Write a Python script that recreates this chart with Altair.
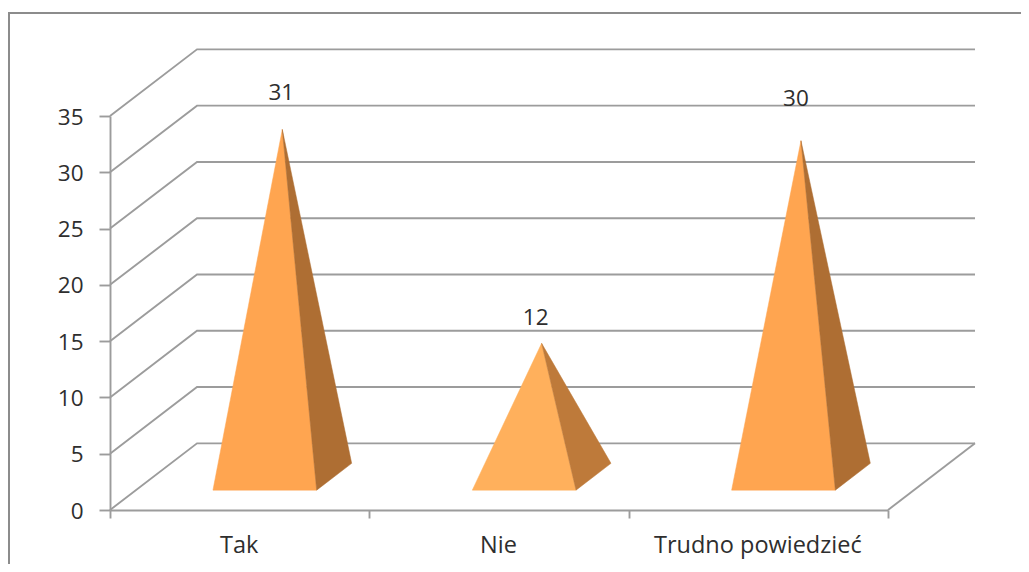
import altair as alt
import pandas as pd

categories = ["Tak", "Nie", "Trudno powiedzieć"]
values = [31, 12, 30]
y_ticks = [0, 5, 10, 15, 20, 25, 30, 35]
front_colors = ["#FFA550", "#FFB05C", "#FFA550"]
side_colors = ["#AE6E33", "#BE7A3A", "#AE6E33"]

W, H = 778, 394
FONT = "Open Sans"
GRID = "#9C9C9C"
FRAME = "#8C8C8C"
TEXT = "#2E2E2E"
FS = 22.5

# oblique projection of the 3D box, in data units
DX, DY = 0.3355, 5.92
HALF = 0.2
FRONT_D, BACK_D = 0.298, 0.70
LABEL_SHIFT = [(-1, -36), (-6, -25), (-5, -42)]

xs = alt.Scale(domain=[0, 3], nice=False, zero=False)
ys = alt.Scale(domain=[0, 35], nice=False, zero=False)
y_axis = alt.Axis(values=y_ticks, labelFont=FONT, labelFontSize=FS, labelColor=TEXT,
                  labelPadding=16, labelOffset=1, tickSize=11, tickWidth=1.9, tickColor=GRID,
                  domainColor=GRID, domainWidth=1.9, grid=False, title=None)


def line_layer(points, color=GRID, width=1.9, **mark):
    df = pd.DataFrame(points, columns=["x", "y", "o"])
    return alt.Chart(df).mark_line(color=color, strokeWidth=width, **mark).encode(
        x=alt.X("x:Q", scale=xs, axis=None),
        y=alt.Y("y:Q", scale=ys, axis=y_axis),
        order="o:O",
    )


layers = []

# invisible band layer that carries the category axis
axis_df = pd.DataFrame({"cat": categories, "v": values})
layers.append(
    alt.Chart(axis_df).mark_bar(opacity=0).encode(
        x=alt.X("cat:N", sort=categories, title=None,
                scale=alt.Scale(paddingInner=0, paddingOuter=0),
                axis=alt.Axis(tickBand="extent", labelAngle=0, labelFont=FONT, labelFontSize=23.5,
                              labelColor=TEXT, labelPadding=15, labelOffset=-1, tickSize=8,
                              tickWidth=1.9, tickColor=GRID, domainColor=GRID, domainWidth=2.2,
                              grid=False, labelLimit=400)),
        y=alt.Y("v:Q", scale=ys, axis=y_axis),
    )
)

# walls and floor
for v in y_ticks:
    layers.append(line_layer([(0, v, 0), (DX, v + DY, 1), (3 + DX, v + DY, 2)]))
layers.append(line_layer([(3, 0, 0), (3 + DX, DY, 1)]))

# pyramids
for i, v in enumerate(values):
    left = i + 0.5 - HALF + FRONT_D * DX - 0.003
    right = left + 2 * HALF
    base_front = FRONT_D * DY
    base_back = BACK_D * DY
    back_right = right + (BACK_D - FRONT_D) * DX
    apex_x = (left + back_right) / 2
    apex_y = (base_front + base_back) / 2 + v - 0.15
    for pts, col in (
        ([(left, base_front, 0), (right, base_front, 1), (apex_x, apex_y, 2)], front_colors[i]),
        ([(right, base_front, 0), (back_right, base_back, 1), (apex_x, apex_y, 2)], side_colors[i]),
    ):
        layers.append(line_layer(pts, color=col, width=0.5, fill=col, interpolate="linear-closed"))
    lbl = pd.DataFrame({"x": [apex_x], "y": [apex_y], "t": [str(v)]})
    layers.append(
        alt.Chart(lbl).mark_text(font=FONT, fontSize=FS, color=TEXT,
                                 dx=LABEL_SHIFT[i][0], dy=LABEL_SHIFT[i][1]).encode(
            x=alt.X("x:Q", scale=xs, axis=None),
            y=alt.Y("y:Q", scale=ys, axis=y_axis),
            text="t:N",
        )
    )

# outer frame of the picture
layers.append(
    alt.Chart(pd.DataFrame({"a": [0]})).mark_rule(color=FRAME, strokeWidth=2).encode(
        x=alt.value(-101), x2=alt.value(W + 133), y=alt.value(-103)
    )
)
layers.append(
    alt.Chart(pd.DataFrame({"a": [0]})).mark_rule(color=FRAME, strokeWidth=2).encode(
        x=alt.value(-101), y=alt.value(-104), y2=alt.value(H + 54)
    )
)

chart = (
    alt.layer(*layers)
    .resolve_scale(x="independent")
    .properties(
        width=W,
        height=H,
        background="white",
        padding={"left": 102, "top": 108, "right": 133, "bottom": 54},
        autosize=alt.AutoSizeParams(type="none"),
    )
    .configure_view(stroke=None)
)

chart.save("out.html", embed_options={"renderer": "svg", "actions": False})
